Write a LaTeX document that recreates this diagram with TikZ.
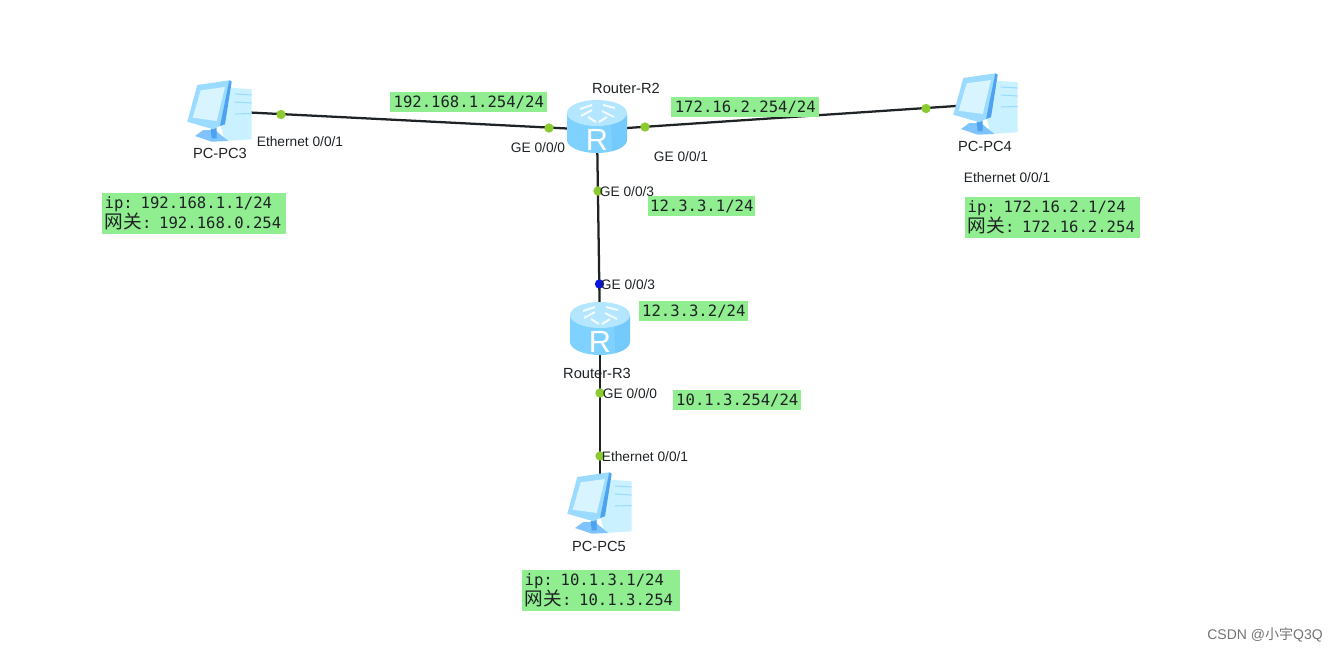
\documentclass[tikz,border=0pt]{standalone}
\usepackage{fontspec}
\setmainfont{Liberation Sans}
\setmonofont{DejaVu Sans Mono}
\newfontfamily\cjk{Noto Sans CJK SC}
\usepackage{xcolor}
\definecolor{ink}{HTML}{1F2326}
\definecolor{addr}{HTML}{90EE90}
\definecolor{up}{HTML}{8CCB2F}
\definecolor{down}{HTML}{0A14E0}
\definecolor{rtop}{HTML}{B4E6FF}
\definecolor{rside}{HTML}{7FD2FF}
\definecolor{rdark}{HTML}{5FBDF5}
\definecolor{pclight}{HTML}{C9F1FF}
\definecolor{pcmid}{HTML}{9ADBFF}
\definecolor{pcscreen}{HTML}{D8F4FF}
\definecolor{pcdark}{HTML}{4DA3F0}
\definecolor{pcbase}{HTML}{7FC4FF}
\tikzset{
  every node/.style={text=ink},
  device/.style={inner sep=0pt,minimum size=1pt},
  link/.style={draw=ink,line width=1.7pt},
  devlabel/.style={font=\fontsize{11}{13}\selectfont,inner sep=0pt},
  portlabel/.style={devlabel,font=\fontsize{10.3}{12}\selectfont},
  portdot/.style={circle,fill=up,inner sep=0pt,minimum size=7pt},
  downdot/.style={portdot,fill=down},
  addrbox/.style={fill=addr,inner sep=0pt,anchor=north west,font=\ttfamily\fontsize{11.7}{14}\selectfont},
  ipbox/.style={addrbox,align=left,inner xsep=1.8pt,font=\ttfamily\fontsize{11.7}{15}\selectfont},
  wmark/.style={font=\fontsize{10.5}{12}\selectfont,text=black!55,inner sep=0pt},
  routericon/.pic={
    \fill[rside] (-30,-17) -- (-30,10) arc[start angle=180,end angle=0,x radius=30,y radius=13] -- (30,-17) -- cycle;
    \fill[rdark,opacity=.35] (14,-8) -- (30,-17) -- (30,10) arc[start angle=0,end angle=60,x radius=30,y radius=13] -- cycle;
    \fill[rtop] (0,-17) ellipse[x radius=30,y radius=13];
    \draw[white,line width=1.5pt,opacity=.85] (-17,-21) -- (-5,-25) (-5,-20) -- (-16,-14) (6,-25) -- (18,-22) (5,-19) -- (17,-13) (-9,-13) -- (-1,-8) (2,-8) -- (10,-13);
    \node[text=white,inner sep=0pt,font=\fontsize{23}{23}\selectfont] at (0,10) {R};
  },
  pcicon/.pic={
    \fill[pclight] (10.7,-23.3) -- (31.7,-21.7) -- (31.7,28.3) -- (5,30) -- (0,13.3) -- cycle;
    \draw[pcmid,line width=.8pt] (15,-17) -- (31.7,-16) (15,-9) -- (31.7,-8) (15,3) -- (31.7,2.5);
    \fill[pcbase] (-25,25) -- (-16.7,19) -- (-5,19) -- (8.3,30) -- (-8.3,30.7) -- cycle;
    \fill[pcdark] (-9.3,18) -- (-3.3,16.7) -- (-3.3,27.3) -- (-8.3,27.3) -- cycle;
    \fill[pcmid] (-32.7,10.7) -- (-22.7,-26) -- (9.3,-30.7) -- (6,-10) -- (0,15) -- (-6.7,18.3) -- cycle;
    \fill[pcscreen] (-27.3,6.7) -- (-19.3,-20.7) -- (5,-24) -- (-3.3,10) -- cycle;
    \fill[pcdark] (9.3,-30.7) -- (11.7,-29.3) -- (5,13.3) -- (0,15) -- cycle;
  },
}
\begin{document}
\begin{tikzpicture}[x=.75pt,y=-.75pt]
\useasboundingbox (0,0) rectangle (1337,653);

% devices
\node[device] (pc3) at (220,111) {};
\node[device] (pc4) at (986,104) {};
\node[device] (pc5) at (600,503) {};
\node[device] (r2) at (597,130) {};
\node[device] (r3) at (600,332) {};

\draw[link] (pc3) -- (r2);
\draw[link] (r2) -- (pc4);
\draw[link] (r2) -- (r3);
\draw[link] (r3) -- (pc5);

\pic at (pc3) {pcicon};
\pic at (pc4) {pcicon};
\pic at (pc5) {pcicon};
\pic at (r2) {routericon};
\pic at (r3) {routericon};

\node[devlabel] (pc3name) at (220,153) {PC-PC3};
\node[devlabel] (pc4name) at (985,146) {PC-PC4};
\node[devlabel] (pc5name) at (599,546) {PC-PC5};
\node[devlabel] (r2name) at (626,88) {Router-R2};
\node[devlabel] (r3name) at (597,373) {Router-R3};

% port dots
\node[portdot] (dot1) at (281,114.5) {};
\node[portdot] (dot2) at (549,128) {};
\node[portdot] (dot3) at (645,127) {};
\node[portdot] (dot4) at (926,108.5) {};
\node[portdot] (dot5) at (598,191) {};
\node[downdot] (dot6) at (599.5,284) {};
\node[portdot] (dot7) at (600,393) {};
\node[portdot] (dot8) at (600,456) {};

% port names
\node[portlabel] (port1) at (300,142) {Ethernet 0/0/1};
\node[portlabel] (port2) at (538,148) {GE 0/0/0};
\node[portlabel] (port3) at (681,157) {GE 0/0/1};
\node[portlabel] (port4) at (1007,178) {Ethernet 0/0/1};
\node[portlabel] (port5) at (627,192) {GE 0/0/3};
\node[portlabel] (port6) at (628,285) {GE 0/0/3};
\node[portlabel] (port7) at (630,394) {GE 0/0/0};
\node[portlabel] (port8) at (645,457) {Ethernet 0/0/1};

% addresses
\node[addrbox,minimum width=157*.75pt,minimum height=20*.75pt] (addr1) at (390,92) {192.168.1.254/24};
\node[addrbox,minimum width=148*.75pt,minimum height=20*.75pt] (addr2) at (671,97) {172.16.2.254/24};
\node[addrbox,minimum width=107*.75pt,minimum height=20*.75pt] (addr3) at (648,196) {12.3.3.1/24};
\node[addrbox,minimum width=109*.75pt,minimum height=20*.75pt] (addr4) at (639,301) {12.3.3.2/24};
\node[addrbox,minimum width=128*.75pt,minimum height=20*.75pt] (addr5) at (673,390) {10.1.3.254/24};

\node[ipbox,text width=184*.75pt-3.6pt,minimum height=41*.75pt] (ip3) at (102,193) {ip: 192.168.1.1/24\\{\cjk\fontsize{14}{15}\selectfont 网关}: 192.168.0.254};
\node[ipbox,text width=175*.75pt-3.6pt,minimum height=41*.75pt] (ip4) at (965,197) {ip: 172.16.2.1/24\\{\cjk\fontsize{14}{15}\selectfont 网关}: 172.16.2.254};
\node[ipbox,text width=158*.75pt-3.6pt,minimum height=41*.75pt] (ip5) at (522,570) {ip: 10.1.3.1/24\\{\cjk\fontsize{14}{15}\selectfont 网关}: 10.1.3.254};

\node[wmark] (csdn) at (1265,635) {CSDN @{\cjk 小宇}Q3Q};

\end{tikzpicture}
\end{document}
